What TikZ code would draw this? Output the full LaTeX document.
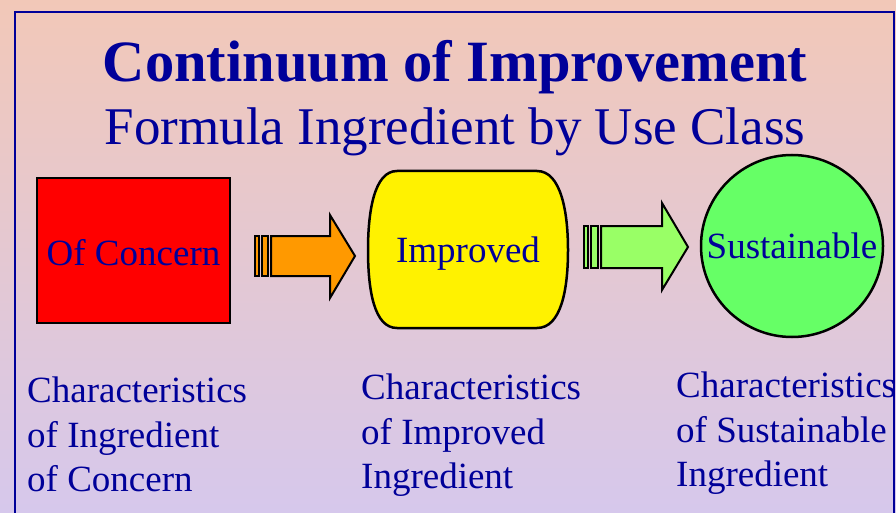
\documentclass[tikz,border=0pt]{standalone}
\usepackage{fontspec}
\setmainfont{Liberation Serif}
\usepackage{tikz}

\definecolor{navy}{RGB}{0,0,153}
\definecolor{peach}{RGB}{242,200,184}
\definecolor{lilac}{RGB}{214,200,236}
\definecolor{orangefill}{RGB}{255,153,0}
\definecolor{lightgreen}{RGB}{153,255,102}
\definecolor{ballgreen}{RGB}{102,255,102}

\tikzset{
  shapeline/.style={draw=black, line width=2.5pt, line join=miter},
  arrowline/.style={draw=black, line width=2pt, line join=miter},
  classtext/.style={text=navy, font=\fontsize{37}{44}\selectfont, inner sep=0pt, anchor=base},
  notetext/.style={text=navy, font=\fontsize{37}{44.5}\selectfont, align=left, anchor=north west, inner sep=0pt}
}

\begin{document}
\begin{tikzpicture}[x=1pt,y=-1pt]
      \useasboundingbox (0,0) rectangle (896,513);
      \shade[top color=peach, bottom color=lilac] (0,0) rectangle (896,513);
      \draw[navy, line width=2.5pt] (15,560) -- (15,12) -- (894,12) -- (894,560);

      \node[text=navy, anchor=base, font=\fontsize{58.5}{60}\selectfont\bfseries] (title) at (455,82) {Continuum of Improvement};
      \node[text=navy, anchor=base, font=\fontsize{53}{56}\selectfont] (subtitle) at (455,145) {Formula Ingredient by Use Class};

      % of concern
      \draw[shapeline, fill=red] (37,178) rectangle (230,323);
      \node[classtext] (concern) at (133.5,265) {Of Concern};

      % orange striped arrow
      \draw[arrowline, fill=orangefill] (255,236) rectangle (259,276);
      \draw[arrowline, fill=orangefill] (262,236) rectangle (268,276);
      \draw[arrowline, fill=orangefill] (271,236) -- (330,236) -- (330,215) -- (355,256)
            -- (330,298) -- (330,276) -- (271,276) -- cycle;

      % improved
      \draw[shapeline, fill=yellow] (397,171) -- (537,171)
            .. controls (561,171) and (568,212) .. (568,250)
            .. controls (568,290) and (561,328) .. (537,328) -- (397,328)
            .. controls (374,328) and (368,290) .. (368,250)
            .. controls (368,212) and (374,171) .. (397,171) -- cycle;
      \node[classtext] (improved) at (468,262) {Improved};

      % green striped arrow
      \draw[arrowline, fill=lightgreen] (584,226) rectangle (588,268);
      \draw[arrowline, fill=lightgreen] (591,226) rectangle (598,268);
      \draw[arrowline, fill=lightgreen] (601,226) -- (662,226) -- (662,203) -- (688,247)
            -- (662,290) -- (662,268) -- (601,268) -- cycle;

      % sustainable
      \draw[shapeline, fill=ballgreen] (792,246) circle (91);
      \node[classtext] (sustainable) at (792,258) {Sustainable};

      \node[notetext] (notea) at (27,377) {Characteristics\\of Ingredient\\of Concern};
      \node[notetext] (noteb) at (361,374) {Characteristics\\of Improved\\Ingredient};
      \node[notetext] (notec) at (676,372) {Characteristics\\of Sustainable\\Ingredient};
\end{tikzpicture}
\end{document}
